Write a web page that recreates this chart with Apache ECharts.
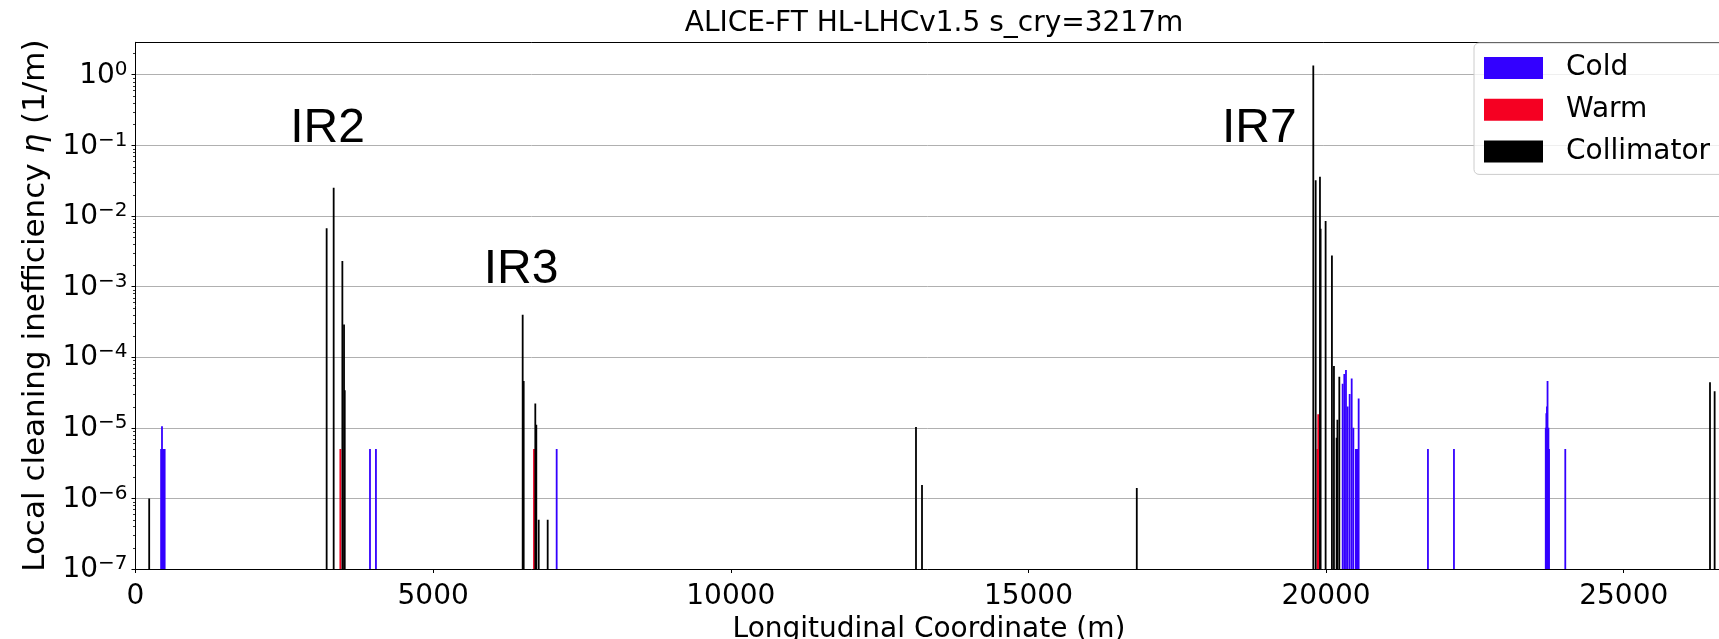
<!DOCTYPE html>
<html>
<head>
<meta charset="utf-8">
<title>ALICE-FT loss map</title>
<script src="https://cdn.jsdelivr.net/npm/echarts@6/dist/echarts.min.js"></script>
<style>
html, body { margin: 0; padding: 0; background: #ffffff; }
#chart { width: 1719px; height: 639px; }
</style>
</head>
<body>
<div id="chart"></div>
<script>
// s (m) and local cleaning inefficiency (1/m)
var coldS   = [430, 445, 460, 475, 490, 3939, 4039, 7075,
               20278, 20306, 20334, 20362, 20396, 20430, 20458, 20500, 20514, 20530, 20547,
               21711, 22148, 23690, 23700, 23710, 23720, 23735, 23745, 24018];
var coldEta = [5e-6, 1.05e-5, 5e-6, 5e-6, 5e-6, 5e-6, 5e-6, 5e-6,
               4.2e-5, 5.8e-5, 6.6e-5, 2.0e-5, 3.0e-5, 5.0e-5, 1.0e-5, 5e-6, 5e-6, 5e-6, 2.6e-5,
               5e-6, 5e-6, 1.0e-5, 1.6e-5, 2.0e-5, 4.6e-5, 1.0e-5, 5e-6, 5e-6];

var warmS   = [3441, 6694, 19855, 19868];
var warmEta = [5e-6, 5e-6, 5e-6, 1.55e-5];

var collS   = [230, 3211, 3329, 3475, 3503, 3515, 6504, 6521, 6716, 6733, 6773, 6924,
               13111, 13212, 16820,
               19785, 19825, 19897, 19908, 19992, 20098, 20132, 20177, 20190, 20222,
               26449, 26527];
var collEta = [1.0e-6, 6.7e-3, 2.5e-2, 2.3e-3, 2.9e-4, 3.4e-5, 4.0e-4, 4.6e-5, 2.2e-5, 1.1e-5, 5e-7, 5e-7,
               1.03e-5, 1.55e-6, 1.4e-6,
               1.35, 3.2e-2, 3.6e-2, 6.6e-3, 8.5e-3, 2.75e-3, 7.5e-5, 7.2e-6, 1.3e-5, 5.3e-5,
               4.4e-5, 3.3e-5];

// region annotations
var irNames = ['IR2', 'IR3', 'IR7'];
var irS     = [2600, 5850, 18250];
var irEta   = [0.1, 0.001, 0.1];

var xTicks = [0, 5000, 10000, 15000, 20000, 25000];
var minorMult = [2, 3, 4, 5, 6, 7, 8, 9];

var sMax = 26659;
var yMin = 1e-7;
var yMax = 2.88;
var font = 'DejaVu Sans';
var barW = 1.8;

function pairs(xs, ys) {
    return xs.map(function (x, i) { return [x, ys[i]]; });
}

function barItem(params, api) {
    var base = api.coord([api.value(0), yMin]);
    var top = api.coord([api.value(0), api.value(1)]);
    return {
        type: 'rect',
        shape: { x: base[0] - barW / 2, y: top[1], width: barW, height: base[1] - top[1] },
        style: { fill: api.visual('color') }
    };
}

// minor ticks of the log axis (2..9 x 10^n)
var minorVals = [];
for (var e = -7; e <= 0; e++) {
    minorMult.forEach(function (m) {
        var v = m * Math.pow(10, e);
        if (v < yMax) minorVals.push([0, v]);
    });
}

var chart = echarts.init(document.getElementById('chart'), null, { renderer: 'canvas' });

chart.setOption({
    animation: false,
    backgroundColor: '#ffffff',
    title: {
        text: 'ALICE-FT HL-LHCv1.5 s_cry=3217m',
        left: 929,
        textAlign: 'center',
        top: 5,
        textStyle: { fontFamily: font, fontSize: 28, fontWeight: 'normal', color: '#000' }
    },
    legend: {
        data: ['Cold', 'Warm', 'Collimator'],
        orient: 'vertical',
        left: 1474,
        top: 43,
        icon: 'rect',
        itemWidth: 59,
        itemHeight: 22,
        itemGap: 13.7,
        padding: [11, 30, 9, 10],
        backgroundColor: 'rgba(255,255,255,0.8)',
        borderColor: '#cccccc',
        borderWidth: 1,
        borderRadius: 5,
        selectedMode: false,
        textStyle: { fontFamily: font, fontSize: 28, color: '#000', padding: [0, 0, 0, 18] }
    },
    grid: {
        left: 135.5,
        top: 42.3,
        right: -3.5,
        bottom: 70,
        show: false,
        containLabel: false,
        outerBoundsMode: 'none'
    },
    xAxis: [{
        type: 'value',
        min: 0,
        max: sMax,
        interval: 5000,
        name: 'Longitudinal Coordinate (m)',
        nameLocation: 'middle',
        nameGap: 44,
        nameTextStyle: { fontFamily: font, fontSize: 28, color: '#000' },
        axisLine: { show: true, lineStyle: { color: '#000', width: 1 } },
        axisTick: { show: true, length: 4, lineStyle: { color: '#000', width: 1 } },
        axisLabel: {
            fontFamily: font, fontSize: 28, color: '#000', margin: 14,
            showMaxLabel: false,
            formatter: function (v) { return xTicks.indexOf(v) >= 0 ? String(v) : ''; }
        },
        splitLine: { show: false }
    }, {
        // top spine
        type: 'value',
        position: 'top',
        min: 0,
        max: sMax,
        axisLine: { show: true, onZero: false, lineStyle: { color: '#000', width: 1 } },
        axisTick: { show: false },
        axisLabel: { show: false },
        splitLine: { show: false }
    }],
    yAxis: {
        type: 'log',
        logBase: 10,
        min: yMin,
        max: yMax,
        splitNumber: 8,
        interval: 1,
        name: 'Local cleaning inefficiency {i|η} (1/m)',
        nameLocation: 'middle',
        nameRotate: 90,
        nameGap: 83,
        nameTextStyle: {
            fontFamily: font, fontSize: 31, color: '#000',
            padding: [0, 0, 0, 0],
            rich: { i: { fontFamily: font, fontSize: 31, fontStyle: 'italic', color: '#000' } }
        },
        axisLine: { show: true, lineStyle: { color: '#000', width: 1 } },
        axisTick: { show: true, length: 4, lineStyle: { color: '#000', width: 1 } },
        axisLabel: {
            margin: 8,
            showMaxLabel: false,
            formatter: function (v) {
                var ex = Math.round(Math.log10(v));
                return '{b|10}{e|' + (ex < 0 ? '\u2212' + (-ex) : ex) + '}';
            },
            rich: {
                b: { fontFamily: font, fontSize: 28, color: '#000', verticalAlign: 'bottom' },
                e: { fontFamily: font, fontSize: 20, color: '#000', verticalAlign: 'bottom', padding: [0, 0, 10, 0] }
            }
        },
        splitLine: { show: true, lineStyle: { color: '#b0b0b0', width: 1 } }
    },
    series: [
        {
            name: 'minor ticks',
            type: 'custom',
            silent: true,
            clip: false,
            data: minorVals,
            renderItem: function (params, api) {
                var p = api.coord([0, api.value(1)]);
                var y = Math.round(p[1]) + 0.5;
                return {
                    type: 'line',
                    shape: { x1: p[0] - 2.5, y1: y, x2: p[0], y2: y },
                    style: { stroke: '#000', lineWidth: 0.8 }
                };
            },
            z: 5
        },
        {
            name: 'Cold',
            type: 'custom',
            itemStyle: { color: '#3300ff' },
            clip: true,
            data: pairs(coldS, coldEta),
            renderItem: barItem
        },
        {
            name: 'Warm',
            type: 'custom',
            itemStyle: { color: '#f50022' },
            clip: true,
            data: pairs(warmS, warmEta),
            renderItem: barItem
        },
        {
            name: 'Collimator',
            type: 'custom',
            itemStyle: { color: '#000000' },
            clip: true,
            data: pairs(collS, collEta),
            renderItem: barItem
        },
        {
            name: 'regions',
            type: 'custom',
            silent: true,
            clip: false,
            data: pairs(irS, irEta),
            renderItem: function (params, api) {
                var p = api.coord([api.value(0), api.value(1)]);
                return {
                    type: 'text',
                    x: p[0],
                    y: p[1] + 7,
                    style: {
                        text: irNames[params.dataIndex],
                        fontFamily: 'Liberation Sans',
                        fontSize: 48,
                        fill: '#000',
                        align: 'left',
                        verticalAlign: 'bottom'
                    }
                };
            }
        }
    ]
});
</script>
</body>
</html>
